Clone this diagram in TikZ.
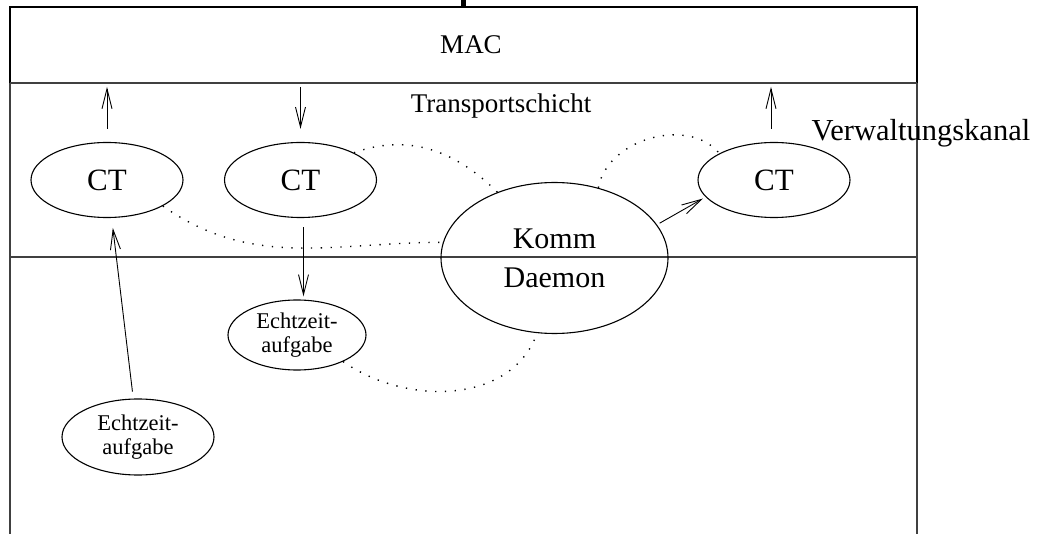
\documentclass[tikz,border=0pt]{standalone}
\usepackage{fontspec}
\setmainfont{Liberation Serif}
\usetikzlibrary{shapes.geometric,arrows.meta}
\begin{document}
\begin{tikzpicture}[x=1pt,y=1pt,
  frame/.style={line width=1.5pt},
  layer/.style={line width=1.2pt, black!75},
  ell/.style={ellipse, draw, line width=1.1pt, inner sep=0pt},
  ctnode/.style={ell, minimum width=152pt, minimum height=75pt, font=\fontsize{31}{36}\selectfont},
  tasknode/.style={ell, align=center, font=\fontsize{22.5}{24}\selectfont},
  arr/.style={-{Straight Barb[length=20pt,width=10pt]}, line width=0.9pt},
  dots/.style={line width=1.4pt, dash pattern=on 1.3pt off 8.5pt},
]
\useasboundingbox (0,0) rectangle (1039,-534);
\fill (461,0) rectangle (466,-7);
% layers
\draw[frame] (10,-83) -- (10,-7) -- (917,-7) -- (917,-83);
\draw[layer] (10,-83) -- (917,-83);
\draw[layer] (10,-83) -- (10,-534);
\draw[layer] (917,-83) -- (917,-534);
\draw[layer] (10,-257) -- (917,-257);
% texts
\node[font=\fontsize{27}{30}\selectfont] (mac) at (471,-45) {MAC};
\node[font=\fontsize{27}{30}\selectfont] (ts) at (501,-106) {Transportschicht};
\node[font=\fontsize{30.5}{34}\selectfont] (vk) at (921,-133) {Verwaltungskanal};
% nodes
\node[ctnode] (ct1) at (107,-180) {CT};
\node[ctnode] (ct2) at (300.5,-180) {CT};
\node[ctnode] (ct3) at (774,-180) {CT};
\node[ell, minimum width=227pt, minimum height=151pt, align=center,
      font=\fontsize{30}{39}\selectfont] (kd) at (554.5,-258) {Komm\\Daemon};
\node[tasknode, minimum width=138pt, minimum height=70pt] (ec2) at (297,-335) {Echtzeit-\\aufgabe};
\node[tasknode, minimum width=152pt, minimum height=76pt] (ec1) at (138,-437) {Echtzeit-\\aufgabe};
% arrows
\draw[arr] ([yshift=13pt]ct1.north) -- ++(0,42);
\draw[arr] ([yshift=55pt]ct2.north) -- ++(0,-42);
\draw[arr] ([xshift=-3pt,yshift=13pt]ct3.north) -- ++(0,42);
\draw[arr, shorten <=9pt, shorten >=3pt] ([xshift=3pt]ct2.south) -- ([xshift=3pt]ct2.south |- ec2.north);
\draw[arr, shorten <=7pt, shorten >=10pt] (ec1.97) -- (ct1.-83);
\draw[arr, shorten <=3pt, shorten >=3pt] (kd.18) -- (ct3.194);
% dotted links
\draw[dots] (ct1.-25) to[out=-35, in=180] (kd.172);
\draw[dots] (ct2.27) to[out=20, in=135] (kd.131);
\draw[dots] (kd.58) to[out=80, in=130] (ct3.154);
\draw[dots] (ec2.-30) to[out=-35, in=-110] (kd.-103);
\end{tikzpicture}
\end{document}
